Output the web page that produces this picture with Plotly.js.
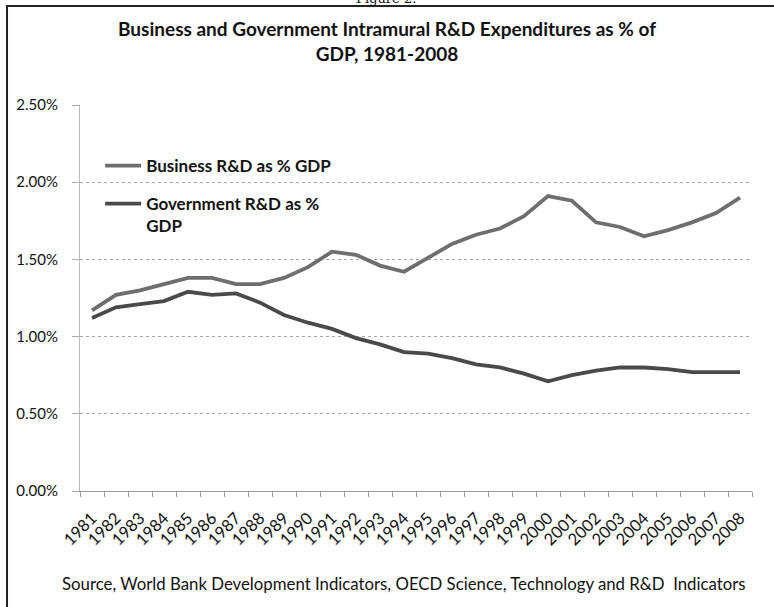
<!DOCTYPE html>
<html>
<head>
<meta charset="utf-8">
<script src="https://cdn.plot.ly/plotly-3.0.1.min.js"></script>
<style>html,body{margin:0;padding:0;background:#fff;}#chart{width:774px;height:607px;}</style>
</head>
<body>
<div id="chart"></div>
<script>
var years = ['1981','1982','1983','1984','1985','1986','1987','1988','1989','1990','1991','1992','1993','1994','1995','1996','1997','1998','1999','2000','2001','2002','2003','2004','2005','2006','2007','2008'];
var businessPct = [1.17,1.27,1.30,1.34,1.38,1.38,1.34,1.34,1.38,1.45,1.55,1.53,1.46,1.42,1.51,1.60,1.66,1.70,1.78,1.91,1.88,1.74,1.71,1.65,1.69,1.74,1.80,1.90];
var governmentPct = [1.12,1.19,1.21,1.23,1.29,1.27,1.28,1.22,1.14,1.09,1.05,0.99,0.95,0.90,0.89,0.86,0.82,0.80,0.76,0.71,0.75,0.78,0.80,0.80,0.79,0.77,0.77,0.77];
var yTickVals = [0,0.5,1.0,1.5,2.0,2.5];
var yTickText = ['0.00%','0.50%','1.00%','1.50%','2.00%','2.50%'];
var seriesNames = ['Business R&amp;D as % GDP','Government R&amp;D as %<br>GDP'];

var FONT = 'Lato, "Open Sans", sans-serif';

var traces = [
  {x: years, y: businessPct, type: 'scatter', mode: 'lines', name: seriesNames[0],
   line: {color: '#6e6e6e', width: 3.8}, legend: 'legend'},
  {x: years, y: governmentPct, type: 'scatter', mode: 'lines', name: seriesNames[1],
   line: {color: '#4a4a4a', width: 3.8}, legend: 'legend2'}
];

var layout = {
  width: 774, height: 607,
  margin: {l: 80, r: 22, t: 105, b: 116},
  paper_bgcolor: '#fff', plot_bgcolor: '#fff',
  font: {family: FONT, color: '#111'},
  title: {text: '<b>Business and Government Intramural R&amp;D Expenditures as % of<br>GDP, 1981-2008</b>',
          font: {family: FONT, size: 19, color: '#111'}, x: 0.5, xanchor: 'center', y: 0.94, yanchor: 'top'},
  xaxis: {type: 'category', range: [-0.5, 27.5], tickangle: -45, tickfont: {size: 16.5, color: '#111'},
          showgrid: false, showline: true, linecolor: '#9a9a9a', linewidth: 1,
          ticks: 'outside', ticklen: 5, tickcolor: '#9a9a9a', tickson: 'boundaries', ticklabelstandoff: 10, fixedrange: true},
  yaxis: {range: [0, 2.5], tickvals: yTickVals, ticktext: yTickText, tickfont: {size: 15, color: '#111'},
          showgrid: true, gridcolor: '#a8a8a8', griddash: 'dot', gridwidth: 1,
          showline: true, linecolor: '#b8b8b8', linewidth: 1, zeroline: false,
          ticks: 'outside', ticklen: 7, tickcolor: '#a8a8a8', ticklabelstandoff: 11, fixedrange: true},
  legend: {x: 0.03, y: 0.842, xanchor: 'left', yanchor: 'middle', bgcolor: 'rgba(0,0,0,0)',
           font: {family: FONT, size: 17, color: '#111', weight: 'bold'}, itemwidth: 36},
  legend2: {x: 0.03, y: 0.79, xanchor: 'left', yanchor: 'top', valign: 'top', bgcolor: 'rgba(0,0,0,0)',
           font: {family: FONT, size: 17, color: '#111', weight: 'bold'}, itemwidth: 36},
  showlegend: true,
  shapes: [
    {type: 'rect', xref: 'paper', yref: 'paper', x0: -0.1086, x1: 1.2, y0: -0.5, y1: 1.2565,
     line: {color: '#222', width: 2}, fillcolor: 'rgba(0,0,0,0)'}
  ],
  annotations: [
    {text: 'Source, World Bank Development Indicators, OECD Science, Technology and R&amp;D  Indicators',
     xref: 'paper', yref: 'paper', x: 0.482, y: -0.24, xanchor: 'center', yanchor: 'middle', showarrow: false,
     font: {family: FONT, size: 16.8, color: '#111'}},
    {text: 'Figure 2.', xref: 'paper', yref: 'paper', x: 0.456, y: 1.277, xanchor: 'center', yanchor: 'middle', showarrow: false,
     font: {family: 'DejaVu Serif, serif', size: 13, color: '#111'}}
  ]
};

Plotly.newPlot('chart', traces, layout, {displayModeBar: false, staticPlot: true});
</script>
</body>
</html>
